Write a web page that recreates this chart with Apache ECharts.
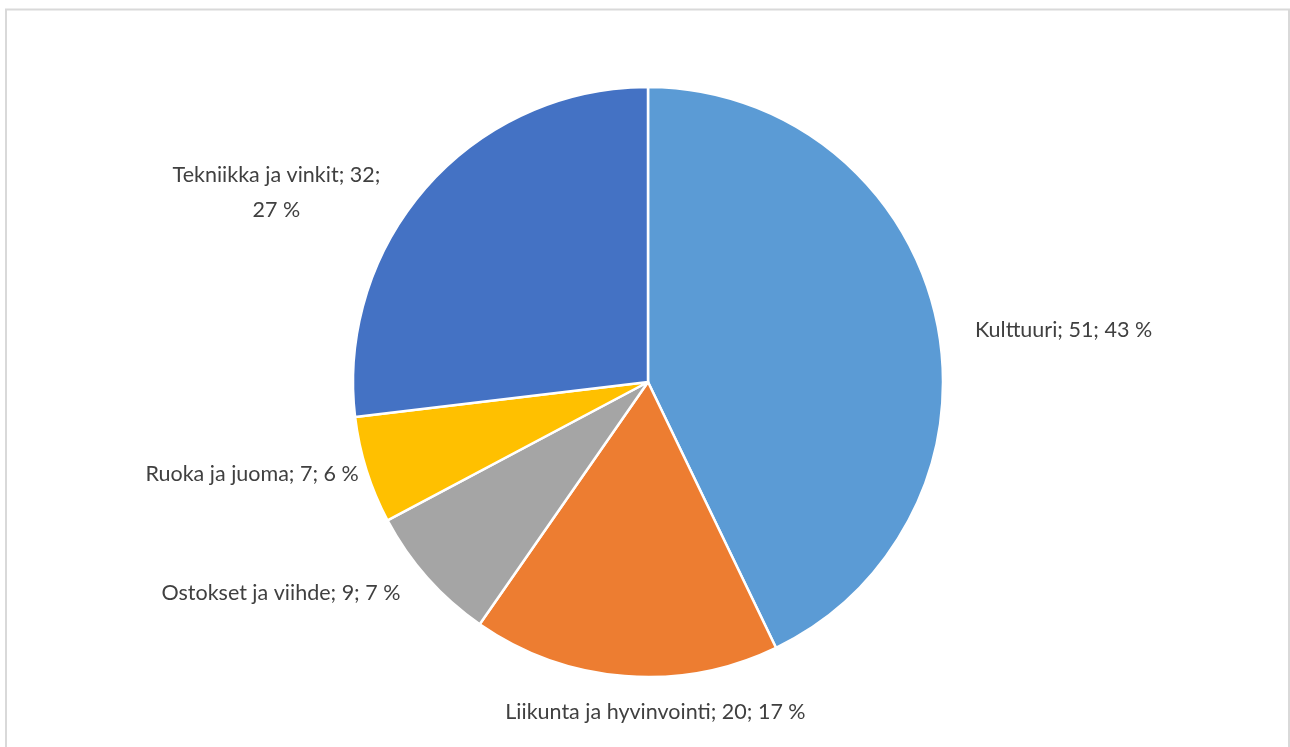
<!DOCTYPE html>
<html><head><meta charset="utf-8">
<script src="https://cdn.jsdelivr.net/npm/echarts@6/dist/echarts.min.js"></script>
<style>html,body{margin:0;padding:0;background:#fff}#c{width:1290px;height:747px}</style>
</head><body><div id="c"></div>
<script>
const categories = ['Kulttuuri', 'Liikunta ja hyvinvointi', 'Ostokset ja viihde', 'Ruoka ja juoma', 'Tekniikka ja vinkit'];
const values = [51, 20, 9, 7, 32];
const percents = ['43 %', '17 %', '7 %', '6 %', '27 %'];
const colors = ['#5B9BD5', '#ED7D31', '#A5A5A5', '#FFC000', '#4472C4'];

// label placement tweaks (Excel best-fit style)
const labelTweaks = [
  {dx: 7, dy: 20},
  {dx: 38, dy: 8, align: 'center'},
  {dx: -1, dy: -3},
  {dx: 24, dy: -5},
  {dx: -125, dy: 25, align: 'center'}
];

const chart = echarts.init(document.getElementById('c'));
chart.setOption({
  animation: false,
  graphic: [{type: 'rect', shape: {x: 6, y: 9.5, width: 1283, height: 760}, style: {fill: 'none', stroke: '#d9d9d9', lineWidth: 2}}],
  series: [{
    type: 'pie',
    center: [648, 382],
    radius: [0, 295],
    startAngle: 90,
    clockwise: true,
    itemStyle: {borderColor: '#fff', borderWidth: 2.5},
    label: {
      show: true, position: 'outside', color: '#404040', fontSize: 21.5,
      fontFamily: 'Lato, "Open Sans", sans-serif', lineHeight: 35,
      formatter: p => categories[p.dataIndex] + '; ' + values[p.dataIndex] + (p.dataIndex === 4 ? ';\n' : '; ') + percents[p.dataIndex]
    },
    labelLine: {show: false, length: 28, length2: 0},
    labelLayout: p => labelTweaks[p.dataIndex],
    data: categories.map((c, i) => ({name: c, value: values[i], itemStyle: {color: colors[i]}}))
  }]
});
</script></body></html>
